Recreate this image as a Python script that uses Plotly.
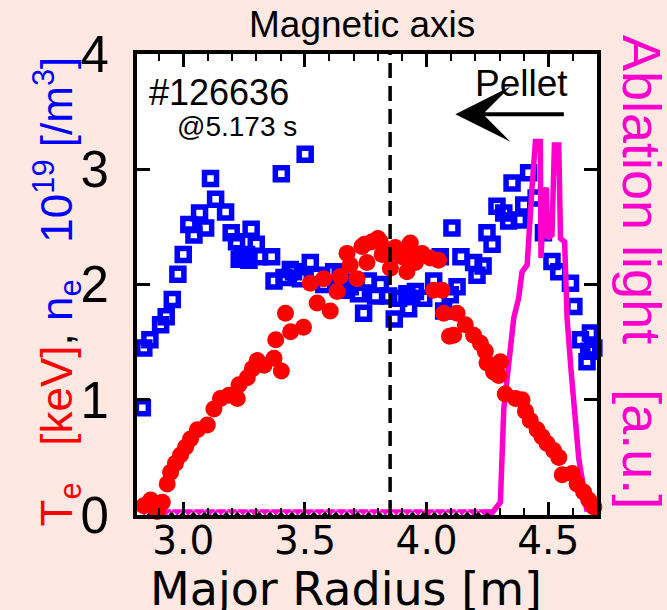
import plotly.graph_objects as go

# ---- data ----
ne_r = [2.832, 2.838, 2.863, 2.907, 2.930, 2.955, 2.978, 3.000, 3.023, 3.044, 3.067, 3.092,
        3.112, 3.133, 3.174, 3.197, 3.219, 3.230, 3.240, 3.260, 3.270, 3.279, 3.300, 3.311,
        3.363, 3.373, 3.403, 3.414, 3.440, 3.453, 3.481, 3.501, 3.522, 3.550, 3.577, 3.618,
        3.645, 3.660, 3.686, 3.700, 3.720, 3.741, 3.760, 3.790, 3.810, 3.844, 3.867, 3.885,
        3.919, 3.926, 3.954, 3.988, 4.029, 4.056, 4.070, 4.097, 4.104, 4.125, 4.141, 4.193,
        4.207, 4.232, 4.248, 4.269, 4.289, 4.317, 4.337, 4.351, 4.381, 4.399, 4.419, 4.450,
        4.480, 4.515, 4.543, 4.591, 4.605, 4.632, 4.659, 4.666, 4.673, 4.687]
ne_v = [0.93, 1.45, 1.52, 1.65, 1.72, 1.87, 2.09, 2.26, 2.52, 2.43, 2.62, 2.49,
        2.92, 2.74, 2.63, 2.45, 2.37, 2.22, 2.24, 2.26, 2.21, 2.48, 2.35, 2.24,
        2.24, 2.03, 2.96, 2.06, 2.13, 2.11, 2.05, 3.13, 2.19, 2.08, 2.00, 2.11,
        2.08, 1.95, 1.98, 2.02, 1.92, 1.75, 2.03, 1.90, 2.00, 1.90, 1.70, 1.88,
        1.92, 1.79, 1.94, 1.88, 2.03, 2.24, 1.77, 1.91, 2.49, 1.98, 2.24, 2.19,
        2.08, 2.16, 2.45, 2.35, 2.68, 2.62, 2.55, 2.88, 2.56, 2.69, 2.97, 2.75,
        2.45, 2.20, 2.11, 2.01, 1.81, 1.52, 1.33, 1.42, 1.58, 1.45]

te_r = [2.838, 2.866, 2.893, 2.914, 2.934, 2.948, 2.968, 2.989, 3.010, 3.030, 3.058, 3.099,
        3.126, 3.153, 3.188, 3.222, 3.229, 3.263, 3.284, 3.304, 3.332, 3.373, 3.380, 3.403,
        3.420, 3.441, 3.494, 3.522, 3.550, 3.577, 3.604, 3.632, 3.645, 3.673, 3.686, 3.714,
        3.734, 3.745, 3.755, 3.776, 3.800, 3.810, 3.817, 3.851, 3.860, 3.871, 3.899, 3.919,
        3.920, 3.933, 3.954, 3.981, 4.015, 4.029, 4.049, 4.063, 4.070, 4.094, 4.111, 4.125,
        4.159, 4.193, 4.221, 4.241, 4.248, 4.275, 4.296, 4.303, 4.323, 4.365, 4.392, 4.406,
        4.426, 4.454, 4.474, 4.495, 4.522, 4.543, 4.557, 4.598, 4.618, 4.645, 4.666, 4.687]
te_v = [0.08, 0.13, 0.03, 0.11, 0.27, 0.37, 0.45, 0.52, 0.59, 0.66, 0.74, 0.78,
        0.92, 1.01, 1.04, 1.01, 1.13, 1.19, 1.27, 1.34, 1.30, 1.36, 1.52, 1.25,
        1.75, 1.59, 1.63, 2.01, 1.84, 2.05, 1.77, 1.94, 2.07, 2.27, 2.17, 2.05,
        2.33, 2.35, 2.19, 2.37, 2.40, 2.37, 2.26, 2.14, 2.28, 2.32, 2.24, 2.11,
        2.30, 2.36, 2.19, 2.27, 2.23, 1.95, 2.21, 1.95, 1.75, 1.55, 1.56, 1.75,
        1.65, 1.56, 1.49, 1.42, 1.32, 1.24, 1.21, 1.33, 1.05, 1.01, 1.00, 0.90,
        0.82, 0.74, 0.68, 0.62, 0.56, 0.50, 0.35, 0.36, 0.27, 0.20, 0.13, 0.07]

abl_r = [4.262, 4.303, 4.317, 4.337, 4.358, 4.378, 4.392, 4.413, 4.419, 4.433, 4.447,
         4.467, 4.470, 4.481, 4.492, 4.497, 4.515, 4.525, 4.543, 4.550, 4.567, 4.577,
         4.594, 4.608, 4.625, 4.645, 4.659]
abl_v = [0.00, 0.11, 0.92, 1.36, 1.71, 1.88, 2.11, 2.17, 2.40, 2.84, 3.24,
         3.24, 2.23, 2.75, 2.84, 2.40, 2.43, 3.21, 3.21, 2.40, 2.37, 1.71,
         1.24, 0.84, 0.49, 0.23, 0.03]

base_r = [2.840, 2.885, 2.930, 2.975, 3.020, 3.065, 3.110, 3.155, 3.200, 3.245, 3.290,
          3.335, 3.380, 3.425, 3.470, 3.515, 3.560, 3.605, 3.650, 3.695, 3.740, 3.785,
          3.830, 3.875, 3.920, 3.965, 4.010, 4.055, 4.100, 4.145, 4.190, 4.235, 4.262]
base_v = [0.03] * len(base_r)
blk_r = [2.862, 2.907, 2.952, 2.997, 3.042, 3.087, 3.132, 3.177, 3.222, 3.267, 3.312,
         3.357, 3.402, 3.447, 3.492, 3.537, 3.582, 3.627, 3.672, 3.717, 3.762, 3.807,
         3.852, 3.897, 3.942, 3.987, 4.032, 4.077, 4.122, 4.167, 4.212, 4.250]
blk_v = [0.0] * len(blk_r)

axis_pos = 3.85
x_ticks = [3.0, 3.5, 4.0, 4.5]
x_labels = ["3.0", "3.5", "4.0", "4.5"]
y_ticks = [0, 1, 2, 3, 4]

RED = "#ff0000"
BLUE = "#0000ff"
MAG = "#ff00cc"
BG = "#ffe8e2"
ARIAL = "Liberation Sans, Arial, sans-serif"
DEJA = "DejaVu Sans, Verdana, sans-serif"

fig = go.Figure()
fig.add_trace(go.Scatter(x=blk_r, y=blk_v, mode="markers", cliponaxis=False,
                         marker=dict(symbol="triangle-up", size=8, color="black"),
                         showlegend=False, hoverinfo="skip"))
fig.add_trace(go.Scatter(x=base_r, y=base_v, mode="lines+markers", cliponaxis=False,
                         line=dict(color=MAG, width=2),
                         marker=dict(symbol="triangle-down", size=9, color=MAG),
                         showlegend=False))
fig.add_trace(go.Scatter(x=ne_r, y=ne_v, mode="markers", cliponaxis=False,
                         marker=dict(symbol="square-open", size=12, color=BLUE,
                                     line=dict(width=5.5, color=BLUE)),
                         showlegend=False))
fig.add_trace(go.Scatter(x=abl_r, y=abl_v, mode="lines", cliponaxis=False,
                         line=dict(color=MAG, width=5.5),
                         showlegend=False))
fig.add_trace(go.Scatter(x=te_r, y=te_v, mode="markers", cliponaxis=False,
                         marker=dict(symbol="circle", size=17, color=RED),
                         showlegend=False))

fig.add_shape(type="line", x0=axis_pos, x1=axis_pos, y0=0, y1=4, xref="x", yref="y",
              line=dict(color="black", width=3.5, dash="15px,8px"), layer="above")

annos = [
    dict(text="Magnetic axis", x=0.49, y=1.065, xref="paper", yref="paper",
         xanchor="center", yanchor="middle",
         showarrow=False, font=dict(family=ARIAL, size=37, color="black")),
    dict(text="#126636", x=2.852, y=3.67, xref="x", yref="y", xanchor="left",
         yanchor="middle",
         showarrow=False, font=dict(family=ARIAL, size=36, color="black")),
    dict(text="@5.173 s", x=3.22, y=3.37, xref="x", yref="y",
         xanchor="center", yanchor="middle",
         showarrow=False, font=dict(family=ARIAL, size=28, color="black")),
    dict(text="Pellet", x=4.389, y=3.74, xref="x", yref="y",
         xanchor="center", yanchor="middle",
         showarrow=False, font=dict(family=ARIAL, size=37, color="black")),
    dict(text="", x=4.118, y=3.478, ax=4.57, ay=3.478, xref="x", yref="y",
         axref="x", ayref="y", showarrow=True, arrowhead=3, arrowwidth=4,
         arrowsize=2.3, arrowcolor="black"),
    dict(text="Major Radius [m]", x=0.454, y=-0.16, xref="paper", yref="paper",
         xanchor="center", yanchor="middle",
         showarrow=False, font=dict(family=DEJA, size=46, color="black")),
    dict(text=("<span style='color:#ff0000'>T<sub>e</sub>\u00a0\u00a0\u00a0[keV]</span>"
               "<span style='color:#000000'>,</span>"
               "<span style='color:#0000ff'> n<sub>e</sub>\u00a0\u00a0\u00a010<sup>19</sup> [/m<sup>3</sup>]</span>"),
         x=-0.174, y=0.485, xref="paper", yref="paper", textangle=-90,
         xanchor="center", yanchor="middle",
         showarrow=False, font=dict(family=ARIAL, size=44)),
    dict(text="Ablation light\u00a0\u00a0\u00a0[a.u.]", x=1.098, y=0.527,
         xref="paper", yref="paper", textangle=90, showarrow=False,
         xanchor="center", yanchor="middle",
         font=dict(family=ARIAL, size=54, color=MAG)),
]
fig.update_layout(annotations=annos)

fig.update_layout(
    width=667, height=610,
    margin=dict(l=137, r=70, t=54, b=95, autoexpand=False),
    paper_bgcolor=BG, plot_bgcolor="white",
    showlegend=False,
    xaxis=dict(range=[2.81, 4.70], tickmode="array", tickvals=x_ticks, ticktext=x_labels,
               ticks="inside", ticklen=13, tickwidth=3, tickcolor="black",
               minor=dict(dtick=0.1, tick0=3.0, ticks="inside", ticklen=7, tickwidth=2,
                          tickcolor="black"),
               showline=True, linewidth=4, linecolor="black", mirror="ticks",
               showgrid=False, zeroline=False, automargin=False,
               ticklabelstandoff=-12,
               tickfont=dict(family=DEJA, size=39, color="black")),
    yaxis=dict(range=[0, 4], tickmode="array", tickvals=y_ticks,
               ticks="inside", ticklen=13, tickwidth=3, tickcolor="black",
               showline=True, linewidth=4, linecolor="black", mirror="ticks",
               showgrid=False, zeroline=False, automargin=False,
               ticklabelstandoff=14,
               tickfont=dict(family=ARIAL, size=51, color="black")),
)

fig.write_html("out.html", config={"displayModeBar": False},
               post_script="document.body.style.margin='0';document.body.style.overflow='hidden';")
